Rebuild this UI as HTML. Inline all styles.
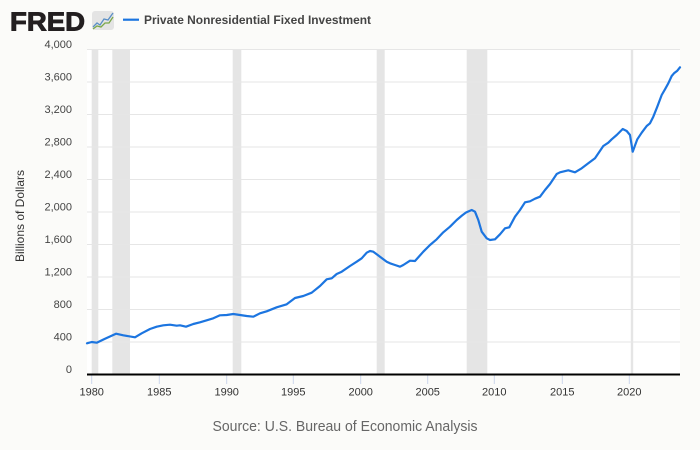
<!DOCTYPE html>
<html><head><meta charset="utf-8"><style>
html,body{margin:0;padding:0;background:#fbfbf9;}
svg{display:block;font-family:"Liberation Sans",Arial,sans-serif;}
</style></head><body>
<svg width="700" height="450" viewBox="0 0 700 450" xmlns="http://www.w3.org/2000/svg">
<rect x="0" y="0" width="700" height="450" fill="#fbfbf9"/>
<!-- logo -->
<text x="10" y="30.7" font-size="26" font-weight="bold" fill="#231f20" stroke="#231f20" stroke-width="0.9" textLength="75" lengthAdjust="spacingAndGlyphs">FRED</text>
<rect x="92" y="11" width="22" height="19" rx="3" fill="#e4e4e4"/>
<polyline points="93,27 97,23 100,25 104,19 108,20 113,13" fill="none" stroke="#5a8fc6" stroke-width="1.3"/>
<polyline points="93,29 97,26 101,27 105,23 109,23 113,17" fill="none" stroke="#7aa84a" stroke-width="1.3"/>
<!-- legend -->
<line x1="123" y1="19.7" x2="139" y2="19.7" stroke="#1c75e0" stroke-width="2.2"/>
<text x="144" y="24" font-size="12" font-weight="bold" fill="#444" textLength="227" lengthAdjust="spacingAndGlyphs">Private Nonresidential Fixed Investment</text>
<!-- plot area -->
<rect x="87" y="49" width="593" height="326" fill="#ffffff"/>
<!-- recession bands -->
<g fill="#e5e5e5">
<rect x="91.7" y="49" width="6.6" height="325"/>
<rect x="112.3" y="49" width="17.7" height="325"/>
<rect x="232.7" y="49" width="8.6" height="325"/>
<rect x="376.7" y="49" width="8" height="325"/>
<rect x="466.7" y="49" width="20.6" height="325"/>
<rect x="630.8" y="49" width="2.4" height="325"/>
</g>
<!-- gridlines -->
<g stroke="#e6e6e6" stroke-width="1">
<line x1="87" x2="680" y1="49.5" y2="49.5"/>
<line x1="87" x2="680" y1="82" y2="82"/>
<line x1="87" x2="680" y1="114.5" y2="114.5"/>
<line x1="87" x2="680" y1="147" y2="147"/>
<line x1="87" x2="680" y1="179.5" y2="179.5"/>
<line x1="87" x2="680" y1="212" y2="212"/>
<line x1="87" x2="680" y1="244.5" y2="244.5"/>
<line x1="87" x2="680" y1="277" y2="277"/>
<line x1="87" x2="680" y1="309.5" y2="309.5"/>
<line x1="87" x2="680" y1="342" y2="342"/>
</g>
<!-- y labels -->
<g font-size="11" fill="#444" text-anchor="end">
<text x="72" y="48">4,000</text>
<text x="72" y="80.5">3,600</text>
<text x="72" y="113">3,200</text>
<text x="72" y="145.5">2,800</text>
<text x="72" y="178">2,400</text>
<text x="72" y="210.5">2,000</text>
<text x="72" y="243">1,600</text>
<text x="72" y="275.5">1,200</text>
<text x="72" y="308">800</text>
<text x="72" y="340.5">400</text>
<text x="72" y="373">0</text>
</g>
<text transform="translate(24,216) rotate(-90)" font-size="12" fill="#333" text-anchor="middle">Billions of Dollars</text>
<!-- x ticks -->
<g stroke="#ccd6eb" stroke-width="1">
<line x1="91.7" x2="91.7" y1="375" y2="384"/>
<line x1="159.3" x2="159.3" y1="375" y2="384"/>
<line x1="226.7" x2="226.7" y1="375" y2="384"/>
<line x1="293.3" x2="293.3" y1="375" y2="384"/>
<line x1="360.7" x2="360.7" y1="375" y2="384"/>
<line x1="427.7" x2="427.7" y1="375" y2="384"/>
<line x1="494.3" x2="494.3" y1="375" y2="384"/>
<line x1="562.3" x2="562.3" y1="375" y2="384"/>
<line x1="629.3" x2="629.3" y1="375" y2="384"/>
</g>
<g font-size="11" fill="#333" text-anchor="middle">
<text x="91.7" y="395.5">1980</text>
<text x="159.3" y="395.5">1985</text>
<text x="226.7" y="395.5">1990</text>
<text x="293.3" y="395.5">1995</text>
<text x="360.7" y="395.5">2000</text>
<text x="427.7" y="395.5">2005</text>
<text x="494.3" y="395.5">2010</text>
<text x="562.3" y="395.5">2015</text>
<text x="629.3" y="395.5">2020</text>
</g>
<!-- series -->
<polyline fill="none" stroke="#1c75e0" stroke-width="2.2" stroke-linejoin="round" stroke-linecap="round" points="
87,343.3 91.7,342 96.7,342.7 105,338.7 116,333.7 123.3,335.3 135,337.3 141.7,333.3 150,329 156.7,326.7 163.3,325.3 170,324.7 176.7,325.7 180,325.3 186,326.7 193.3,324 200,322.3 206.7,320.3 213.3,318.3 220,315.3 226.7,315 233.3,314 240,315 246.7,316 253.3,316.7 260,313.3 266.7,311.3 276.7,307.3 286.7,304.3 295,298 303.3,296 311.7,292.7 320,286 326.7,279.3 331.7,278.3 336.7,274 341.7,271.7 350,266 356.7,261.7 361.7,258.3 366.7,252.7 370,251 373.3,251.7 380,256.7 386.7,261.7 390,263.3 395,265 400,266.7 403.3,265 410,260.7 415,261 423.3,251.7 430,245 436.7,239.3 443.3,232.3 450,226.7 456.7,220 462,215.5 466,212.5 471.7,210 475,211.7 478.3,220 481.7,231.7 486.7,238.3 490,240 495,239.3 500,234.3 505,228.3 509.3,227.3 515,216.7 520,210 525,202.3 530,201.3 535,198.7 540,196.7 545,190 550,184 556.7,174 560,172.3 568.3,170.3 575,172.3 581.7,168.3 588.3,163.3 595,158.3 603.3,146 608.3,142.7 611.7,139.3 616.7,135 622.7,129 626.7,131 630,135 632.7,151.7 637.3,139.3 641.7,132.7 646.7,126 650,123.3 653.3,116.7 657.3,106.7 661.7,95 665,89.3 668.3,83.3 671.7,76 674,73.3 677.3,70.7 680,67.3"/>
<!-- x axis line -->
<line x1="87" x2="680" y1="374.5" y2="374.5" stroke="#000" stroke-width="2"/>
<!-- source -->
<text x="345" y="431" font-size="14.5" fill="#666" text-anchor="middle" textLength="265" lengthAdjust="spacingAndGlyphs">Source: U.S. Bureau of Economic Analysis</text>
</svg>
</body></html>
